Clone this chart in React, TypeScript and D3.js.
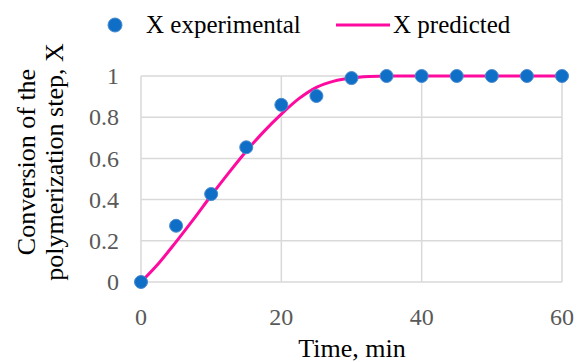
import React from 'react';
import * as d3 from 'd3';

// experimental points
const expTime = [0, 5, 10, 15, 20, 25, 30, 35, 40, 45, 50, 55, 60];
const expX = [0, 0.273, 0.427, 0.654, 0.86, 0.903, 0.99, 1, 1, 1, 1, 1, 1];

// predicted curve
const predTime = [0, 2.5, 5, 7.5, 10, 12.5, 15, 17.5, 20, 22.5, 25, 27.5, 30, 32.5, 35, 40, 45, 50, 55, 60];
const predX = [0, 0.09, 0.195, 0.305, 0.42, 0.53, 0.635, 0.73, 0.815, 0.89, 0.945, 0.975, 0.99, 0.997, 1, 1, 1, 1, 1, 1];

const xTicks = [0, 20, 40, 60];
const yTicks = [0, 0.2, 0.4, 0.6, 0.8, 1];

const App = () => {
  // plot area
  const left = 141,
    right = 562,
    top = 76,
    bottom = 282;

  const x = d3.scaleLinear().domain([0, 60]).range([left, right]);
  const y = d3.scaleLinear().domain([0, 1]).range([bottom, top]);

  const line = d3
    .line<number>()
    .x((d, i) => x(predTime[i]))
    .y((d) => y(d))
    .curve(d3.curveMonotoneX);

  const font = '"Liberation Serif", serif';

  return (
    <svg
      width={578}
      height={362}
      style={{ position: 'absolute', left: 0, top: 0, background: '#fff' }}
      fontFamily={font}
    >
      {/* gridlines */}
      {yTicks.map((t) => (
        <line key={'gy' + t} x1={left} x2={right} y1={y(t)} y2={y(t)} stroke="#d9d9d9" strokeWidth={1.5} />
      ))}
      {xTicks.map((t) => (
        <line key={'gx' + t} x1={x(t)} x2={x(t)} y1={top} y2={bottom} stroke="#d9d9d9" strokeWidth={1.5} />
      ))}

      {/* tick labels */}
      {yTicks.map((t) => (
        <text key={'ty' + t} x={119} y={y(t)} dy="0.34em" textAnchor="end" fontSize={24} fill="#595959">
          {t}
        </text>
      ))}
      {xTicks.map((t) => (
        <text key={'tx' + t} x={x(t)} y={325} textAnchor="middle" fontSize={24} fill="#595959">
          {t}
        </text>
      ))}

      {/* predicted line */}
      <path d={line(predX) ?? ''} fill="none" stroke="#ff0a9f" strokeWidth={3} />

      {/* experimental points */}
      {expX.map((v, i) => (
        <circle key={'p' + i} cx={x(expTime[i])} cy={y(v)} r={6.5} fill="#0f6fc6" stroke="#4a8ad0" strokeWidth={1} />
      ))}

      {/* axis titles */}
      <text x={352} y={357} textAnchor="middle" fontSize={26} fill="#000">
        Time, min
      </text>
      <g transform="translate(0,162) rotate(-90)">
        <text x={0} y={35} textAnchor="middle" fontSize={26} fill="#000">
          Conversion of the
        </text>
        <text x={0} y={63} textAnchor="middle" fontSize={26} fill="#000">
          polymerization step, X
        </text>
      </g>

      {/* legend */}
      <circle cx={115} cy={25} r={7} fill="#0f6fc6" stroke="#4a8ad0" strokeWidth={1} />
      <text x={146} y={33} fontSize={25} fill="#000">
        X experimental
      </text>
      <line x1={336} x2={390} y1={25} y2={25} stroke="#ff0a9f" strokeWidth={3} />
      <text x={393} y={33} fontSize={25} fill="#000">
        X predicted
      </text>
    </svg>
  );
};

export default App;
